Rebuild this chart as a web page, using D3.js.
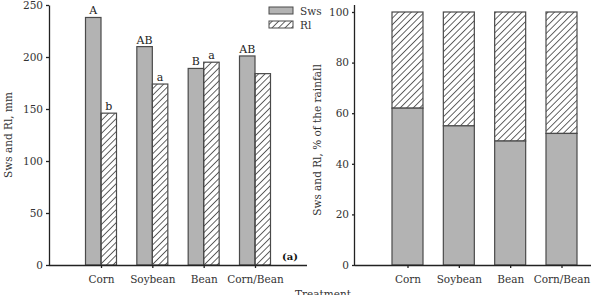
<!DOCTYPE html>
<html>
<head>
<meta charset="utf-8">
<script src="https://cdn.jsdelivr.net/npm/d3@7"></script>
<style>
  body { margin: 0; background: #fff; }
  svg text { font-family: "DejaVu Serif", serif; fill: #333; }
</style>
</head>
<body>
<div id="container"></div>
<script>
/* DATA */
var treatments = ["Corn", "Soybean", "Bean", "Corn/Bean"];
var series = ["Sws", "Rl"];
var swsMm = [238, 210, 189, 201];
var rlMm = [146, 174, 195, 184];
var swsLetters = ["A", "AB", "B", "AB"];
var rlLetters = ["b", "a", "a", ""];
var swsPct = [62, 55, 49, 52];
var leftTicks = [0, 50, 100, 150, 200, 250];
var rightTicks = [0, 20, 40, 60, 80, 100];

var width = 591, height = 295;
var grey = "#b3b3b3", edge = "#4a4a4a";

var svg = d3.select('#container').append('svg')
  .attr('width', width)
  .attr('height', height);

// hatch pattern
svg.append('defs').append('pattern')
  .attr('id', 'hatch')
  .attr('patternUnits', 'userSpaceOnUse')
  .attr('width', 4.6).attr('height', 4.6)
  .attr('patternTransform', 'rotate(45)')
  .append('line')
    .attr('x1', 0).attr('y1', 0).attr('x2', 0).attr('y2', 4.6)
    .attr('stroke', '#222').attr('stroke-width', 1.4);

/* LEFT CHART */
var yL = d3.scaleLinear().domain([0, 250]).range([265, 5]);
var xL = d3.scalePoint().domain(treatments).range([101, 255]);
var sub = d3.scaleBand().domain(series).range([-15.5, 15.5]);

var rows = treatments.map(function(t, i) {
  return {t: t, Sws: swsMm[i], Rl: rlMm[i], ls: swsLetters[i], lr: rlLetters[i]};
});

var gL = svg.append('g');
rows.forEach(function(r) {
  series.forEach(function(s) {
    gL.append('rect')
      .attr('x', xL(r.t) + sub(s))
      .attr('y', yL(r[s]))
      .attr('width', sub.bandwidth())
      .attr('height', yL(0) - yL(r[s]))
      .attr('fill', s === "Sws" ? grey : 'url(#hatch)')
      .attr('stroke', edge).attr('stroke-width', 1.2);
  });
  gL.append('text')
    .attr('x', xL(r.t) + sub("Sws") + sub.bandwidth() / 2)
    .attr('y', yL(r.Sws) - 3)
    .attr('text-anchor', 'middle').attr('font-size', 11)
    .style('fill', '#222')
    .text(r.ls);
  gL.append('text')
    .attr('x', xL(r.t) + sub("Rl") + sub.bandwidth() / 2)
    .attr('y', yL(r.Rl) - 3)
    .attr('text-anchor', 'middle').attr('font-size', 11)
    .style('fill', '#222')
    .text(r.lr);
});

var axL = gL.append('g').attr('transform', 'translate(49,0)')
  .call(d3.axisLeft(yL).tickValues(leftTicks).tickSize(3).tickSizeOuter(0));
var axLx = gL.append('g').attr('transform', 'translate(0,265)')
  .call(d3.axisBottom(xL).tickSize(3).tickPadding(8));
axLx.select('.domain').attr('d', 'M49,0.5H307');

gL.append('text')
  .attr('transform', 'translate(12,135) rotate(-90)')
  .attr('text-anchor', 'middle').attr('font-size', 10.5)
  .text('Sws and Rl, mm');
gL.append('text')
  .attr('x', 290).attr('y', 260)
  .attr('text-anchor', 'middle').attr('font-size', 10)
  .attr('font-weight', 'bold').style('fill', '#111')
  .text('(a)');
gL.append('text')
  .attr('x', 323).attr('y', 298)
  .attr('text-anchor', 'middle').attr('font-size', 10.5)
  .text('Treatment');

// legend
var leg = svg.append('g');
series.forEach(function(s, i) {
  leg.append('rect')
    .attr('x', 269).attr('y', 7 + i * 14)
    .attr('width', 24).attr('height', 7)
    .attr('fill', s === "Sws" ? grey : 'url(#hatch)')
    .attr('stroke', edge).attr('stroke-width', 1);
  leg.append('text')
    .attr('x', 300).attr('y', 15 + i * 14)
    .attr('font-size', 10.5)
    .text(s);
});

/* RIGHT CHART */
var yR = d3.scaleLinear().domain([0, 100]).range([265, 12]);
var xR = d3.scalePoint().domain(treatments).range([407.5, 561.5]);
var bw = 31;

var gR = svg.append('g');
treatments.forEach(function(t, i) {
  gR.append('rect')
    .attr('x', xR(t) - bw / 2).attr('y', yR(100))
    .attr('width', bw).attr('height', yR(swsPct[i]) - yR(100))
    .attr('fill', 'url(#hatch)')
    .attr('stroke', edge).attr('stroke-width', 1.2);
  gR.append('rect')
    .attr('x', xR(t) - bw / 2).attr('y', yR(swsPct[i]))
    .attr('width', bw).attr('height', yR(0) - yR(swsPct[i]))
    .attr('fill', grey)
    .attr('stroke', edge).attr('stroke-width', 1.2);
});

var axR = gR.append('g').attr('transform', 'translate(355,0)')
  .call(d3.axisLeft(yR).tickValues(rightTicks).tickSize(3).tickSizeOuter(0));
axR.select('.domain').attr('d', 'M-0.5,5V265');
var axRx = gR.append('g').attr('transform', 'translate(0,265)')
  .call(d3.axisBottom(xR).tickSize(3).tickPadding(8));
axRx.select('.domain').attr('d', 'M355,0.5H591');

gR.append('text')
  .attr('transform', 'translate(321,140) rotate(-90)')
  .attr('text-anchor', 'middle').attr('font-size', 10.5)
  .text('Sws and Rl, % of the rainfall');

svg.selectAll('.tick text').attr('font-size', 10.5).attr('font-family', '"DejaVu Serif", serif').style('fill', '#333');
svg.selectAll('.domain, .tick line').attr('stroke', '#222').attr('stroke-width', 1.3);
</script>
</body>
</html>
